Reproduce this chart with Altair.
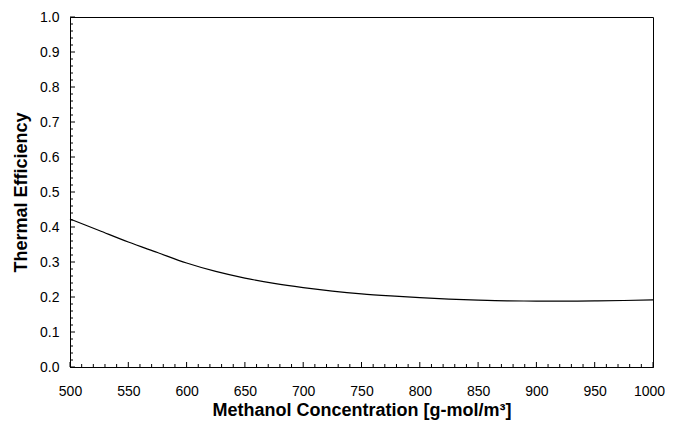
import altair as alt
import pandas as pd

concentration = [500, 525, 550, 575, 600, 625, 650, 675, 700, 725, 750, 775,
                 800, 825, 850, 875, 900, 925, 950, 975, 1000]
efficiency = [0.423, 0.390, 0.357, 0.327, 0.297, 0.273, 0.254, 0.239, 0.227,
              0.217, 0.209, 0.203, 0.198, 0.194, 0.191, 0.189, 0.1885, 0.1883,
              0.1887, 0.190, 0.192]

x_major = list(range(500, 1001, 50))
x_minor = [v for v in range(500, 1001, 10) if v % 50 != 0]
y_major = [i / 10 for i in range(0, 11)]
y_minor = [i / 50 for i in range(0, 51) if i % 5 != 0]

W, H = 583, 350
FONT = "Liberation Sans"

xs = alt.Scale(domain=[500, 1000], nice=False, zero=False)
ys = alt.Scale(domain=[0, 1], nice=False)

xaxis = alt.Axis(values=x_major, format="d", ticks=False, labelPadding=17,
                 labelFlush=False, labelOverlap=False,
                 labelOffset={"condition": {"test": "datum.value >= 1000", "value": -4}, "value": 0},
                 title="Methanol Concentration [g-mol/m³]", titlePadding=3,
                 grid=False, domainColor="black")
yaxis = alt.Axis(values=y_major, format=".1f", ticks=False, labelPadding=11,
                 labelFlush=False, labelOverlap=False,
                 title="Thermal Efficiency", titlePadding=9,
                 grid=False, domainColor="black")

df = pd.DataFrame({"c": concentration, "e": efficiency})

line = alt.Chart(df).mark_line(color="black", strokeWidth=1.2, interpolate="monotone").encode(
    x=alt.X("c:Q", scale=xs, axis=xaxis),
    y=alt.Y("e:Q", scale=ys, axis=yaxis),
)

def xticks(vals, length):
    return alt.Chart(pd.DataFrame({"c": vals})).mark_rule(color="black", strokeWidth=1).encode(
        x=alt.X("c:Q", scale=xs, axis=xaxis),
        y=alt.value(H), y2=alt.value(H - length))

def yticks(vals, length):
    return alt.Chart(pd.DataFrame({"e": vals})).mark_rule(color="black", strokeWidth=1).encode(
        y=alt.Y("e:Q", scale=ys, axis=yaxis),
        x=alt.value(0), x2=alt.value(length))

chart = alt.layer(
    line, xticks(x_major, 5), xticks(x_minor, 3), yticks(y_major, 5), yticks(y_minor, 3)
).properties(
    width=W, height=H,
    autosize=alt.AutoSizeParams(type="none"),
    padding={"left": 62, "top": 9, "right": 12, "bottom": 56},
).configure_view(
    stroke="black", strokeWidth=1
).configure_axis(
    labelFont=FONT, labelFontSize=14, labelColor="black",
    titleFont=FONT, titleFontSize=18, titleFontWeight="bold", titleColor="black",
    domainWidth=1,
)

chart.save("out.html", embed_options={"renderer": "svg", "actions": False})
